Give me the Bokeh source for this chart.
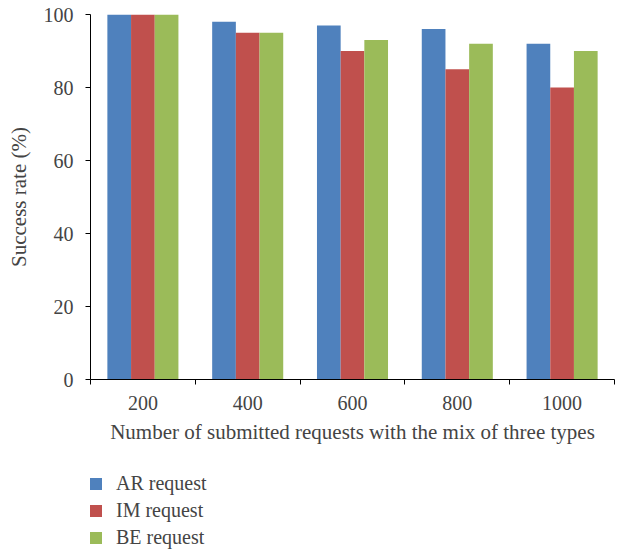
from bokeh.plotting import figure
from bokeh.layouts import column
from bokeh.models import (ColumnDataSource, Range1d, FixedTicker, Legend, LegendItem)
from bokeh.transform import dodge
from bokeh.embed import file_html
from bokeh.resources import INLINE

# Success rate (%) per workload size, for each request type
categories = ["200", "400", "600", "800", "1000"]
ar_request = [100, 98, 97, 96, 92]
im_request = [100, 95, 90, 85, 80]
be_request = [100, 95, 93, 92, 90]
series_names = ["AR request", "IM request", "BE request"]
y_ticks = [0, 20, 40, 60, 80, 100]

colors = ["#4F81BD", "#C0504D", "#9BBB59"]
FONT = "Liberation Serif"

# numeric positions: category i is centred at i + 0.5
xpos = [i + 0.5 for i in range(len(categories))]
source = ColumnDataSource(dict(x=xpos, ar=ar_request, im=im_request, be=be_request))
cols = ["ar", "im", "be"]
bw = 0.226
offsets = [-bw, 0.0, bw]

p = figure(width=617, height=450, output_backend="svg", toolbar_location=None,
           x_range=Range1d(0, len(categories)), y_range=Range1d(0, 100),
           min_border_left=90, min_border_right=3, min_border_top=14,
           min_border_bottom=71)
p.frame_height = 365
p.frame_width = 524

for col, off, c in zip(cols, offsets, colors):
    p.vbar(x=dodge("x", off), top=col, width=bw, bottom=0, source=source,
           fill_color=c, line_color=None)

p.grid.visible = False
p.outline_line_color = None

# x axis: category labels at the centres, tick marks at the boundaries
xa = p.xaxis[0]
xa.ticker = FixedTicker(ticks=xpos, minor_ticks=list(range(len(categories) + 1)))
xa.major_label_overrides = {x: c for x, c in zip(xpos, categories)}
xa.major_tick_line_color = None
xa.minor_tick_out = 5
xa.minor_tick_in = 0
xa.minor_tick_line_color = "black"
xa.axis_line_color = "black"
xa.axis_label = "Number of submitted requests with the mix of three types"
xa.axis_label_text_font = FONT
xa.axis_label_text_font_size = "21px"
xa.axis_label_text_font_style = "normal"
xa.axis_label_standoff = 7
xa.major_label_text_font = FONT
xa.major_label_text_font_size = "20px"
xa.major_label_standoff = 10

ya = p.yaxis[0]
ya.ticker = FixedTicker(ticks=y_ticks)
ya.minor_tick_line_color = None
ya.major_tick_out = 5
ya.major_tick_in = 0
ya.axis_line_color = "black"
ya.axis_label = "Success rate (%)"
ya.axis_label_text_font = FONT
ya.axis_label_text_font_size = "21px"
ya.axis_label_text_font_style = "normal"
ya.axis_label_standoff = 10
ya.major_label_text_font = FONT
ya.major_label_text_font_size = "20px"
ya.major_label_standoff = 12

# legend strip underneath the chart; its bars sit outside the visible range
leg = figure(width=617, height=102, output_backend="svg", toolbar_location=None,
             x_range=Range1d(0, len(categories)), y_range=Range1d(1000, 1100),
             min_border=0)
leg.axis.visible = False
leg.grid.visible = False
leg.outline_line_color = None
leg_renderers = []
for col, off, c in zip(cols, offsets, colors):
    r = leg.vbar(x=dodge("x", off), top=col, width=bw, bottom=0, source=source,
                 fill_color=c, line_color=None)
    leg_renderers.append(r)

legend = Legend(items=[LegendItem(label=n, renderers=[r]) for n, r in zip(series_names, leg_renderers)],
                location=(-2, 3), orientation="vertical",
                glyph_width=15, glyph_height=15, label_height=15, spacing=4,
                label_standoff=13, padding=0, margin=0,
                border_line_color=None, background_fill_alpha=0,
                label_text_font=FONT, label_text_font_size="20px")
leg.add_layout(legend, "center")

layout = column(p, leg, spacing=0)
open("out.html", "w").write(file_html(layout, INLINE))
